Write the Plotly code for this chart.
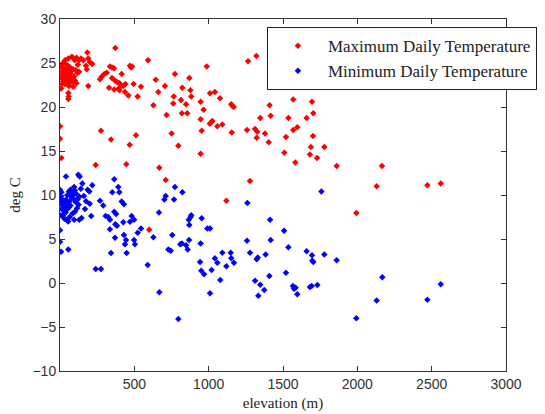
import plotly.graph_objects as go

# Maximum daily temperature: elevation (m), deg C
max_elev = [0, 0, 9, 5, 3, 8,
    20, 34, 45, 56, 60, 25, 12, 30, 48, 66, 75, 88, 70, 52, 38, 18, 8, 28, 44, 62, 80, 95, 100, 85,
    72, 55, 40, 22, 14, 34, 60, 90, 110, 118, 105, 128, 120, 100, 112, 80, 94, 141, 128, 157,
    190, 200, 217, 175, 180, 184, 56, 58, 56, 190,
    372, 592, 336, 350, 363, 471, 478, 485, 415, 269, 280, 298, 314, 350, 370, 385, 400, 410, 425, 440,
    395, 330, 365, 400, 437, 460, 522, 495, 545, 644, 706, 661, 628, 717, 276, 343, 511, 469, 751, 762,
    773, 240, 446, 668, 711, 600, 1119,
    987, 1265, 1321, 870, 823, 877, 765, 883, 814, 848, 1009, 1042, 1076, 946, 1152, 1160, 1168, 966,
    820, 856, 946, 1025, 1016, 1008, 1058, 1092, 953, 1155, 796, 946, 1278, 1258, 1312, 1327, 1323,
    1379, 1404, 1347, 1410, 1417, 1569, 1536, 1520, 1509, 1583, 1596, 1569, 1659, 1695, 1704, 1758,
    1702, 1688, 1778, 1681, 1729, 1861, 2166, 2130, 2471, 2561, 1993]
max_temp = [17.8, 16.4, 14.2, 24.6, 23.4, 22.1,
    25.0, 25.3, 24.8, 25.5, 24.6, 24.4, 24.0, 24.1, 24.3, 24.5, 24.1, 24.3, 23.8, 23.8, 23.7, 23.6, 23.3, 23.3, 23.4, 23.4, 23.2, 23.5, 23.0, 22.9,
    22.8, 22.9, 23.0, 22.9, 22.6, 22.6, 22.4, 22.3, 22.7, 23.9, 24.2, 24.0, 24.8, 25.3, 25.6, 25.7, 25.5, 25.5, 25.3, 25.3,
    25.5, 25.1, 24.9, 24.7, 24.3, 26.2, 21.6, 21.2, 20.9, 22.4,
    26.7, 25.3, 24.6, 24.5, 24.4, 24.7, 24.5, 24.6, 23.75, 23.15, 23.45, 23.75, 23.9, 23.3, 23.0, 22.8, 22.7, 22.5, 22.4, 22.6,
    22.1, 22.2, 22.0, 21.9, 21.7, 21.3, 21.2, 22.6, 22.3, 23.1, 22.4, 21.7, 20.2, 19.1, 17.3, 16.3, 16.8, 15.7, 17.0, 20.4,
    23.75, 13.4, 13.5, 13.1, 11.7, 6.05, 9.35,
    24.6, 25.2, 25.8, 23.3, 22.2, 21.9, 21.2, 21.2, 20.8, 20.3, 21.55, 21.7, 21.0, 20.6, 20.3, 20.15, 20.0, 19.7,
    19.3, 19.3, 18.6, 18.4, 18.25, 18.1, 17.8, 18.0, 17.3, 17.1, 15.6, 14.7, 11.6, 17.4, 17.5, 17.2, 16.5,
    17.0, 16.0, 18.75, 20.2, 19.0, 20.85, 18.75, 16.6, 14.8, 13.7, 17.7, 17.4, 18.75, 20.6, 19.3, 22.35,
    16.7, 15.45, 15.45, 14.6, 14.2, 13.3, 13.3, 11.0, 11.1, 11.3, 7.95]

# Minimum daily temperature: elevation (m), deg C
min_elev = [0, 2, 0, 0, 0, 7, 56,
    40, 123, 132, 217, 186, 197,
    10, 5, 15, 8, 20, 12, 25, 30, 35, 40, 45, 50, 28, 18, 38, 55, 60, 65, 70, 75, 80, 85, 90, 60,
    50, 70, 95, 100, 110, 105, 118, 125, 130, 115, 100, 85, 65, 45, 30, 55, 95, 140, 150, 160, 175,
    168, 200, 210, 145, 130,
    365, 392, 352, 399, 269, 291, 415, 430, 365, 377, 307, 325, 336, 482, 498, 471, 426, 372, 383, 545,
    666, 336, 522, 370, 430, 444, 437, 498, 504, 343, 448, 628, 755, 729, 745, 240, 276, 590, 668, 796,
    950, 969, 1078, 1009, 1020, 942, 1042, 1058, 1092, 1119, 1148, 1152, 1170, 946, 953, 991, 1009,
    868, 848, 820, 809, 859, 870, 879, 883, 866, 702, 711, 767, 823, 773,
    1260, 1258, 1278, 1323, 1330, 1312, 1347, 1374, 1334, 1383, 1408, 1417, 1413, 1507, 1536, 1659,
    1695, 1778, 1697, 1704, 1861, 1520, 1567, 1574, 1585, 1596, 1681, 1693, 1731, 2168, 2130, 2471,
    2561, 1993, 1758]
min_temp = [10.6, 9.1, 7.7, 6.0, 4.7, 3.55, 3.8,
    12.1, 12.3, 12.1, 11.1, 10.6, 10.4,
    10.3, 9.8, 9.5, 9.0, 8.8, 8.4, 8.2, 9.2, 8.7, 9.5, 8.9, 8.4, 7.9, 7.6, 8.0, 9.0, 8.6, 9.3, 8.8, 9.8, 10.2, 10.0, 9.6, 10.4,
    10.0, 10.6, 10.9, 10.5, 10.1, 9.2, 9.5, 8.9, 9.8, 8.5, 8.1, 7.9, 7.5, 7.2, 7.3, 7.0, 7.2, 10.7, 11.3, 9.9, 9.3,
    8.4, 9.0, 7.6, 7.4, 7.2,
    11.8, 10.9, 10.3, 10.3, 9.35, 8.8, 9.25, 8.95, 8.1, 7.84, 7.6, 7.5, 7.2, 7.6, 7.2, 6.96, 6.9, 6.67, 6.5, 6.2,
    8.0, 6.1, 5.7, 5.15, 5.45, 4.9, 4.4, 4.9, 4.4, 3.4, 3.4, 5.2, 5.45, 3.8, 3.67, 1.6, 1.6, 2.05, -1.05, -4.1,
    1.4, 1.0, 0.34, -1.17, 1.48, 2.4, 2.8, 2.3, 3.45, 1.9, 3.45, 2.8, 2.3, 4.5, 7.35, 6.2, 6.2,
    4.9, 4.3, 4.5, 4.4, 3.8, 6.6, 7.5, 7.7, 7.2, 9.5, 9.9, 9.5, 10.3, 10.9,
    9.1, 4.8, 3.45, 2.7, 2.9, 0.26, -0.2, -0.8, -1.45, 3.25, 0.8, 4.9, 7.2, 5.95, 4.05, 3.6,
    3.15, 3.25, 2.53, 2.4, 2.58, 1.17, -0.34, -0.65, -0.53, -1.28, -0.45, -0.34, -0.23, 0.65, -2.0, -1.9,
    -0.15, -4.0, 10.4]

x_ticks = [500, 1000, 1500, 2000, 2500, 3000]
y_ticks = [-10, -5, 0, 5, 10, 15, 20, 25, 30]

fig = go.Figure()
fig.add_trace(go.Scatter(x=max_elev, y=max_temp, mode="markers",
                         name="Maximum Daily Temperature",
                         marker=dict(symbol="diamond", size=5, color="#ff0000",
                                     line=dict(width=0))))
fig.add_trace(go.Scatter(x=min_elev, y=min_temp, mode="markers",
                         name="Minimum Daily Temperature",
                         marker=dict(symbol="diamond", size=5, color="#0000ff",
                                     line=dict(width=0))))

axis_common = dict(showgrid=False, zeroline=False, showline=True, linecolor="#333333",
                   linewidth=1, mirror="ticks", ticks="inside", ticklen=5,
                   tickcolor="#333333",
                   tickfont=dict(family="Liberation Sans, Arial, sans-serif", size=14,
                                 color="#333333"))

fig.update_layout(
    width=545, height=414,
    margin=dict(l=60, r=39, t=19, b=43, autoexpand=False),
    paper_bgcolor="white", plot_bgcolor="white",
    xaxis=dict(range=[0, 3000], tickvals=x_ticks,
               title=dict(text="elevation (m)", standoff=6,
                          font=dict(family="Liberation Serif, Times New Roman, serif",
                                    size=15, color="#222222")),
               **axis_common),
    yaxis=dict(range=[-10, 30], tickvals=y_ticks,
               title=dict(text="deg C", standoff=8,
                          font=dict(family="Liberation Serif, Times New Roman, serif",
                                    size=15, color="#222222")),
               **axis_common),
    legend=dict(x=0.464, y=0.977, xanchor="left", yanchor="top",
                bgcolor="white", bordercolor="#222222", borderwidth=1,
                font=dict(family="Liberation Serif, Times New Roman, serif", size=17,
                          color="#222222"),
                tracegroupgap=0, itemwidth=50, itemsizing="trace"),
    showlegend=True,
)

fig.write_html("out.html", config={"displayModeBar": False},
               post_script="document.body.style.margin='0';document.body.style.overflow='hidden';")
